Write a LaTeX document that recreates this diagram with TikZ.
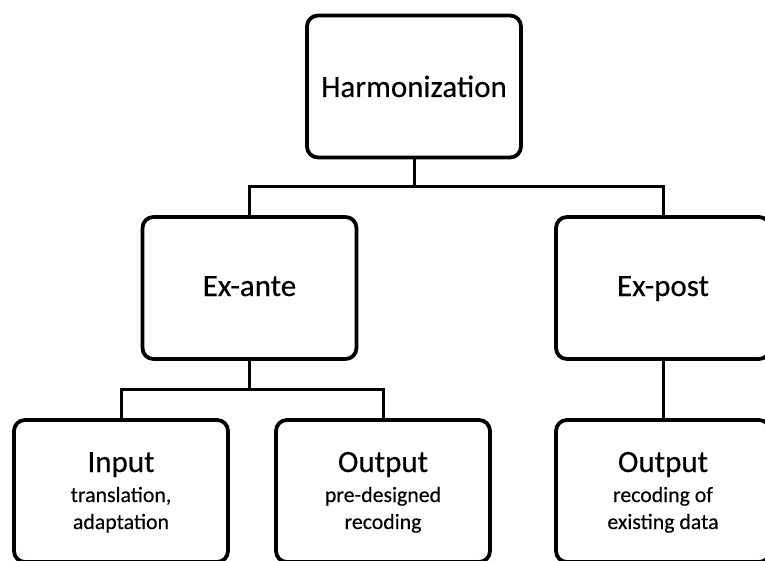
\documentclass[tikz,border=0pt]{standalone}
\usepackage{fontspec}
\setmainfont{Carlito}[FakeBold=0.3]
\begin{document}
\begin{tikzpicture}[x=1pt,y=-1pt,
  box/.style={draw, line width=3.8pt, rounded corners=11pt, minimum width=214pt, minimum height=142pt, inner sep=0pt},
  conn/.style={line width=3pt, line join=miter},
  big/.style={font=\fontsize{31}{37}\selectfont, inner sep=0pt, anchor=base},
  small/.style={font=\fontsize{21.8}{27}\selectfont, inner sep=0pt, anchor=base}]
\useasboundingbox (0,0) rectangle (765,561);
\clip (0,0) rectangle (765,561);
% boxes
\node[box] (h) at (414,86.5) {};
\node[box] (ea) at (249.5,288) {};
\node[box] (ep) at (663,288) {};
\node[box] (in) at (121,491) {};
\node[box] (o1) at (383,491) {};
\node[box] (o2) at (663,491) {};
% texts
\node[big] (th) at (414,97) {Harmonization};
\node[big] (tea) at (249.5,296) {Ex-ante};
\node[big] (tep) at (663,296) {Ex-post};
\node[big] (tin) at (121,472) {Input};
\node[big] (to1) at (383,472) {Output};
\node[big] (to2) at (663,472) {Output};
\node[small] (sin1) at (121,502) {translation,};
\node[small] (sin2) at (121,529) {adaptation};
\node[small] (so11) at (383,502) {pre-designed};
\node[small] (so12) at (383,529) {recoding};
\node[small] (so21) at (663,502) {recoding of};
\node[small] (so22) at (663,529) {existing data};
% connectors
\coordinate (j1) at (414,187);
\coordinate (j2) at (249.5,389);
\draw[conn] (h.south) -- (j1);
\draw[conn] (ea.north) |- (j1) -| (ep.north);
\draw[conn] (ea.south) -- (j2);
\draw[conn] (in.north) |- (j2) -| (o1.north);
\draw[conn] (ep.south) -- (o2.north);
\end{tikzpicture}
\end{document}
